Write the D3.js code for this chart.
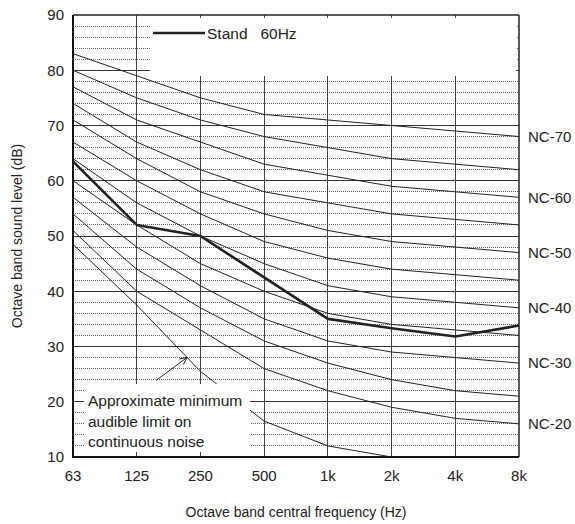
<!DOCTYPE html>
<html>
<head>
<meta charset="utf-8">
<script src="https://cdn.jsdelivr.net/npm/d3@7"></script>
<style>
  body { margin: 0; background: #fff; }
  text { font-family: Arial, "Liberation Sans", sans-serif; fill: #222; }
</style>
</head>
<body>
<svg id="chart" width="575" height="524"></svg>
<script>
// octave bands
const freqs = ["63", "125", "250", "500", "1k", "2k", "4k", "8k"];
const yTicks = [10, 20, 30, 40, 50, 60, 70, 80, 90];

// NC curves, dB per octave band
const ncNames = ["NC-20", "NC-25", "NC-30", "NC-35", "NC-40", "NC-45", "NC-50", "NC-55", "NC-60", "NC-65", "NC-70"];
const nc20 = [51, 40, 33, 26, 22, 19, 17, 16];
const nc25 = [54, 44, 37, 31, 27, 24, 22, 21];
const nc30 = [57, 48, 41, 35, 31, 29, 28, 27];
const nc35 = [60, 52, 45, 40, 36, 34, 33, 32];
const nc40 = [64, 56, 50, 45, 41, 39, 38, 37];
const nc45 = [67, 60, 54, 49, 46, 44, 43, 42];
const nc50 = [71, 64, 58, 54, 51, 49, 48, 47];
const nc55 = [74, 67, 62, 58, 56, 54, 53, 52];
const nc60 = [77, 71, 67, 63, 61, 59, 58, 57];
const nc65 = [80, 75, 71, 68, 66, 64, 63, 62];
const nc70 = [83, 79, 75, 72, 71, 70, 69, 68];
const labelled = ["NC-70", "NC-60", "NC-50", "NC-40", "NC-30", "NC-20"];

// approximate minimum audible limit (63 .. 2k)
const threshold = [48.5, 37.5, 25.5, 16.5, 12, 10];
// measured spectrum
const standName = "Stand   60Hz";
const stand60 = [63.5, 52, 50, 42.5, 35, 33.3, 31.8, 33.8];

const noteLines = ["Approximate minimum", "audible limit on", "continuous noise"];

const ncSeries = [nc20, nc25, nc30, nc35, nc40, nc45, nc50, nc55, nc60, nc65, nc70];

const m = {l: 73, r: 56, t: 15, b: 67};
const W = 575, H = 524;
const svg = d3.select('#chart');

const x = d3.scalePoint().domain(freqs).range([m.l, W - m.r]);
const y = d3.scaleLinear().domain([10, 90]).range([H - m.b, m.t]);
const x0 = m.l, x1 = W - m.r, yTop = m.t, yBot = H - m.b;

svg.append('defs').append('clipPath').attr('id', 'plot')
  .append('rect').attr('x', x0).attr('y', yTop).attr('width', x1 - x0).attr('height', yBot - yTop);

// horizontal grid, every 2 dB
const grid = svg.append('g').attr('shape-rendering', 'crispEdges');
d3.range(12, 90, 2).forEach(v => {
  grid.append('line')
    .attr('x1', x0).attr('x2', x1)
    .attr('y1', y(v)).attr('y2', y(v))
    .attr('stroke', v % 10 === 0 ? '#333' : '#666')
    .attr('stroke-width', 1)
    .attr('stroke-dasharray', v % 10 === 0 ? null : '1 1');
});
// vertical grid at each band
freqs.slice(1, -1).forEach(f => {
  grid.append('line')
    .attr('x1', x(f)).attr('x2', x(f))
    .attr('y1', yTop).attr('y2', yBot)
    .attr('stroke', '#444').attr('stroke-width', 1);
});

const line = d3.line().x((d, i) => x(freqs[i])).y(d => y(d));
const curves = svg.append('g').attr('clip-path', 'url(#plot)');

ncSeries.forEach(s => {
  curves.append('path').attr('d', line(s))
    .attr('fill', 'none').attr('stroke', '#222').attr('stroke-width', 1);
});
curves.append('path').attr('d', line(threshold))
  .attr('fill', 'none').attr('stroke', '#222').attr('stroke-width', 1);
curves.append('path').attr('d', line(stand60))
  .attr('fill', 'none').attr('stroke', '#222').attr('stroke-width', 2.6)
  .attr('stroke-linejoin', 'round');

// legend box (hides grid)
svg.append('rect').attr('x', 150).attr('y', yTop + 3).attr('width', x1 - 3 - 150).attr('height', 58)
  .attr('fill', '#fff');
svg.append('line').attr('x1', 153).attr('x2', 205).attr('y1', 33).attr('y2', 33)
  .attr('stroke', '#222').attr('stroke-width', 2.6);
svg.append('text').attr('x', 207).attr('y', 38.5).attr('font-size', 15.5)
  .style('white-space', 'pre').text(standName);

// note box
svg.append('rect').attr('x', 84).attr('y', 384).attr('width', 166).attr('height', yBot - 5 - 384)
  .attr('fill', '#fff');
noteLines.forEach((t, i) => {
  svg.append('text').attr('x', 88).attr('y', 406 + i * 20.5).attr('font-size', 15.5).text(t);
});

// arrow pointing at the threshold curve
const tipX = x(freqs[1]) + 0.79 * (x(freqs[2]) - x(freqs[1]));
const tipY = y(threshold[1] + 0.79 * (threshold[2] - threshold[1]));
const tailX = tipX - 31, tailY = tipY + 23;
const ang = Math.atan2(tipY - tailY, tipX - tailX);
svg.append('line').attr('x1', tailX).attr('y1', tailY).attr('x2', tipX).attr('y2', tipY)
  .attr('stroke', '#222').attr('stroke-width', 1);
[-0.45, 0.45].forEach(da => {
  svg.append('line').attr('x1', tipX).attr('y1', tipY)
    .attr('x2', tipX - 8 * Math.cos(ang + da)).attr('y2', tipY - 8 * Math.sin(ang + da))
    .attr('stroke', '#222').attr('stroke-width', 1);
});

// frame
svg.append('line').attr('x1', x0).attr('x2', x1).attr('y1', yTop).attr('y2', yTop)
  .attr('stroke', '#222').attr('stroke-width', 1.5);
svg.append('line').attr('x1', x1).attr('x2', x1).attr('y1', yTop).attr('y2', yBot)
  .attr('stroke', '#222').attr('stroke-width', 1.5);
svg.append('line').attr('x1', x0).attr('x2', x0).attr('y1', yTop).attr('y2', yBot + 1)
  .attr('stroke', '#111').attr('stroke-width', 2);
svg.append('line').attr('x1', x0 - 1).attr('x2', x1).attr('y1', yBot).attr('y2', yBot)
  .attr('stroke', '#111').attr('stroke-width', 2);

// tick labels
svg.append('g').selectAll('text').data(yTicks).join('text')
  .attr('x', 64).attr('y', d => y(d)).attr('dy', '0.36em')
  .attr('text-anchor', 'end').attr('font-size', 15).text(d => d);
svg.append('g').selectAll('text').data(freqs).join('text')
  .attr('x', d => x(d)).attr('y', 481)
  .attr('text-anchor', 'middle').attr('font-size', 15).text(d => d);

// NC labels at the 8k end of the curves
svg.append('g').selectAll('text').data(labelled).join('text')
  .attr('x', 528).attr('y', d => y(ncSeries[ncNames.indexOf(d)][7])).attr('dy', '0.36em')
  .attr('font-size', 15).text(d => d);

// axis titles
svg.append('text').attr('x', (x0 + x1) / 2).attr('y', 517).attr('text-anchor', 'middle')
  .attr('font-size', 14).text('Octave band central frequency (Hz)');
svg.append('text').attr('transform', `translate(22,${(yTop + yBot) / 2}) rotate(-90)`)
  .attr('text-anchor', 'middle').attr('font-size', 14).text('Octave band sound level (dB)');
</script>
</body>
</html>
